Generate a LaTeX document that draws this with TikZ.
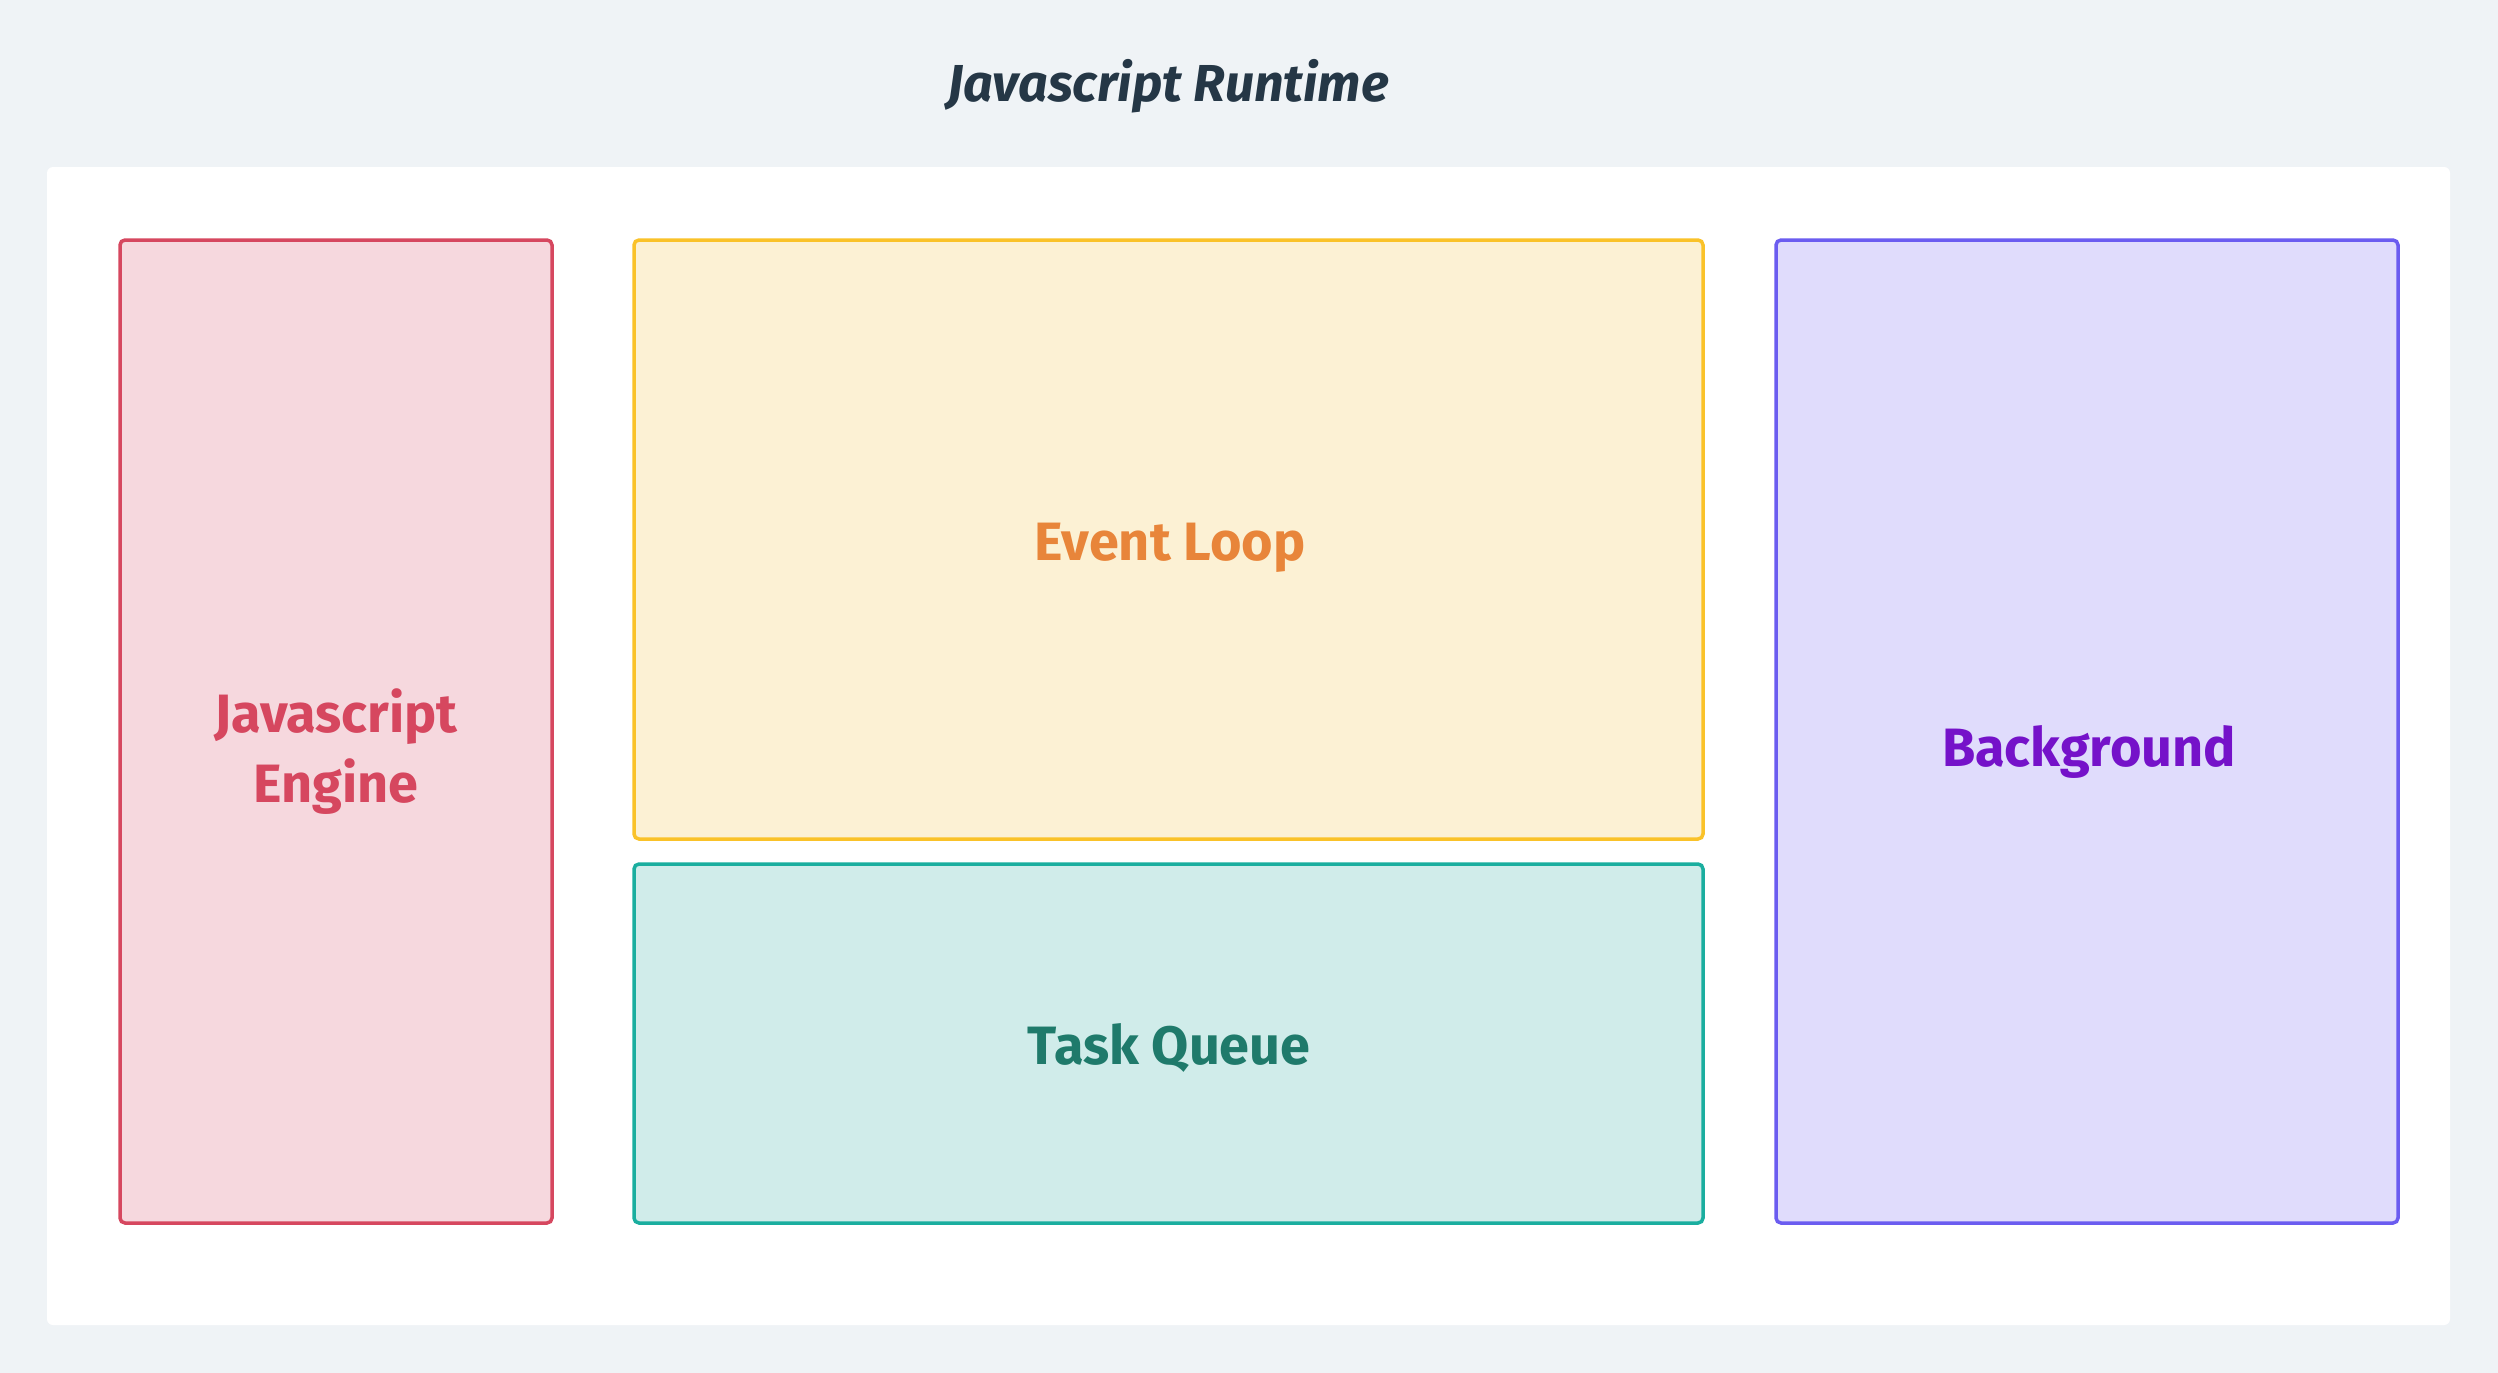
\documentclass[tikz,border=0pt]{standalone}
\usepackage{fontspec}
\setmainfont{Fira Sans}
\definecolor{pagebg}{HTML}{EFF3F6}
\definecolor{titlec}{HTML}{253746}
\definecolor{jsfill}{HTML}{F6D8DE}
\definecolor{jsdraw}{HTML}{D6475F}
\definecolor{elfill}{HTML}{FCF1D4}
\definecolor{eldraw}{HTML}{FAC229}
\definecolor{eltext}{HTML}{E8853A}
\definecolor{tqfill}{HTML}{D0ECEA}
\definecolor{tqdraw}{HTML}{1AAE9F}
\definecolor{tqtext}{HTML}{1F7A6B}
\definecolor{bgfill}{HTML}{E0DCFC}
\definecolor{bgdraw}{HTML}{6B5CF0}
\definecolor{bgtext}{HTML}{7512C9}
\tikzset{
  box/.style={line width=3.5pt, rounded corners=5pt},
  lbl/.style={font=\fontsize{54}{70}\selectfont\bfseries, align=center, inner sep=0pt},
}
\begin{document}
\begin{tikzpicture}[x=1pt,y=-1pt]
\useasboundingbox (0,0) rectangle (2498,1373);
\fill[pagebg] (0,0) rectangle (2498,1373);
\node[font=\fontsize{52}{62}\selectfont\bfseries\itshape, text=titlec, inner sep=0pt] (title) at (1168,86) {Javascript Runtime};
\fill[white, rounded corners=6pt] (47,167) rectangle (2450,1325);
\draw[box, draw=jsdraw, fill=jsfill] (120,240) rectangle (552,1223);
\draw[box, draw=eldraw, fill=elfill] (634,240) rectangle (1703,839);
\draw[box, draw=tqdraw, fill=tqfill] (634,864) rectangle (1703,1223);
\draw[box, draw=bgdraw, fill=bgfill] (1776,240) rectangle (2398,1223);
\node[lbl, text=jsdraw] (js) at (336,752) {Javascript\\Engine};
\node[lbl, text=eltext] (el) at (1170,548) {Event Loop};
\node[lbl, text=tqtext] (tq) at (1169,1048) {Task Queue};
\node[lbl, text=bgtext] (bg) at (2089,752) {Background};
\end{tikzpicture}
\end{document}
